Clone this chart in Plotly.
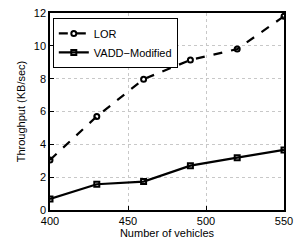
import plotly.graph_objects as go

vehicles = [400, 430, 460, 490, 520, 550]
lor = [3.05, 5.7, 7.97, 9.14, 9.8, 11.8]
vadd = [0.67, 1.57, 1.73, 2.7, 3.19, 3.66]
x_ticks = [400, 450, 500, 550]
y_ticks = [0, 2, 4, 6, 8, 10, 12]

fig = go.Figure()
fig.add_trace(go.Scatter(x=vehicles, y=lor, name="LOR", mode="lines+markers",
                         line=dict(color="black", width=2.2, dash="dash"),
                         marker=dict(symbol="circle-open", size=5, color="black", line=dict(width=2))))
fig.add_trace(go.Scatter(x=vehicles, y=vadd, name="VADD\u2212Modified", mode="lines+markers",
                         line=dict(color="black", width=2.2),
                         marker=dict(symbol="square-open", size=5, color="black", line=dict(width=2))))

axis_common = dict(showline=True, linecolor="black", linewidth=1.5, mirror=True,
                   ticks="inside", ticklen=4, tickcolor="black",
                   showgrid=True, gridcolor="#c8c8c8", griddash="dot", gridwidth=1,
                   zeroline=False, tickfont=dict(size=11, color="black"),
                   automargin=False, ticklabeloverflow="allow")

fig.update_layout(
    width=296, height=240,
    margin=dict(l=50, r=12, t=13, b=30),
    paper_bgcolor="white", plot_bgcolor="white",
    font=dict(family="Liberation Sans, Arial, sans-serif", color="black", size=11),
    xaxis=dict(range=[400, 550], tickvals=x_ticks,
               title=dict(text="Number of vehicles", standoff=0, font=dict(size=11)), **axis_common),
    yaxis=dict(range=[0, 12], tickvals=y_ticks,
               title=dict(text="Throughput (KB/sec)", standoff=6, font=dict(size=11)), **axis_common),
    legend=dict(x=0.012, y=0.975, xanchor="left", yanchor="top",
                bordercolor="black", borderwidth=1, bgcolor="white",
                font=dict(size=11), tracegroupgap=0, itemwidth=30),
    showlegend=True,
)

fig.write_html("out.html", config={"displayModeBar": False},
               post_script="document.body.style.margin='0';document.body.style.overflow='hidden';")
